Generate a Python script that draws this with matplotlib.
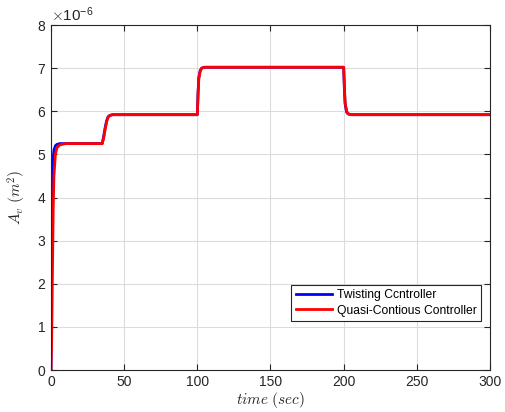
import matplotlib
matplotlib.use("Agg")
import matplotlib.pyplot as plt
from matplotlib.ticker import ScalarFormatter, MultipleLocator

plt.rcParams['font.family'] = ['Liberation Sans', 'DejaVu Sans']
plt.rcParams['mathtext.fontset'] = 'cm'

# time samples (sec)
time = [0, 0.5, 1, 1.5, 2, 3, 4, 6, 10,
        35, 36, 37, 38, 39, 40, 42, 45,
        100, 100.5, 101, 102, 103, 105, 108,
        200, 200.5, 201, 202, 203, 205, 208, 300]
# A_v values (x1e-6 m^2)
twisting = [0, 2.5, 4.2, 4.9, 5.1, 5.2, 5.23, 5.25, 5.25,
            5.25, 5.42, 5.62, 5.78, 5.87, 5.9, 5.92, 5.92,
            5.92, 6.45, 6.78, 6.95, 7.0, 7.02, 7.02,
            7.02, 6.5, 6.17, 5.98, 5.94, 5.92, 5.92, 5.92]
quasi = [0, 0.8, 2.3, 3.7, 4.5, 5.0, 5.15, 5.22, 5.25,
         5.25, 5.38, 5.58, 5.75, 5.86, 5.9, 5.92, 5.92,
         5.92, 6.4, 6.75, 6.94, 7.0, 7.02, 7.02,
         7.02, 6.55, 6.2, 6.0, 5.94, 5.92, 5.92, 5.92]
scale = 1e-6

fig = plt.figure(figsize=(5.06, 4.12), dpi=100)
ax = fig.add_axes([51/506, 1-370/412, (490-51)/506, (370-25)/412])

ax.plot(time, [v*scale for v in twisting], color='#0000ff', lw=2, label='Twisting Ccntroller')
ax.plot(time, [v*scale for v in quasi], color='#ff0000', lw=2, label='Quasi-Contious Controller')

ax.set_xlim(0, 300)
ax.set_ylim(0, 8e-6)
ax.xaxis.set_major_locator(MultipleLocator(50))
ax.yaxis.set_major_locator(MultipleLocator(1e-6))
fmt = ScalarFormatter(useMathText=True)
fmt.set_powerlimits((-3, 3))
ax.yaxis.set_major_formatter(fmt)
ax.yaxis.get_offset_text().set_fontsize(11)

ax.grid(True, color='#dcdcdc', lw=0.8)
ax.tick_params(direction='in', top=True, right=True, labelsize=10, colors='#262626', length=4)
for s in ax.spines.values():
    s.set_color('#262626')
    s.set_linewidth(0.8)

ax.set_xlabel(r'$time\ (sec)$', fontsize=11, color='#262626', labelpad=1)
ax.set_ylabel(r'$A_v\ (m^2)$', fontsize=11, color='#262626', labelpad=6)

leg = ax.legend(loc='lower right', bbox_to_anchor=(0.993, 0.125), fontsize=8.7,
                fancybox=False, edgecolor='#262626', framealpha=1,
                handlelength=3.0, handletextpad=0.4, borderpad=0.35, labelspacing=0.3)
leg.get_frame().set_linewidth(0.8)

fig.savefig('out.png', dpi=100)
